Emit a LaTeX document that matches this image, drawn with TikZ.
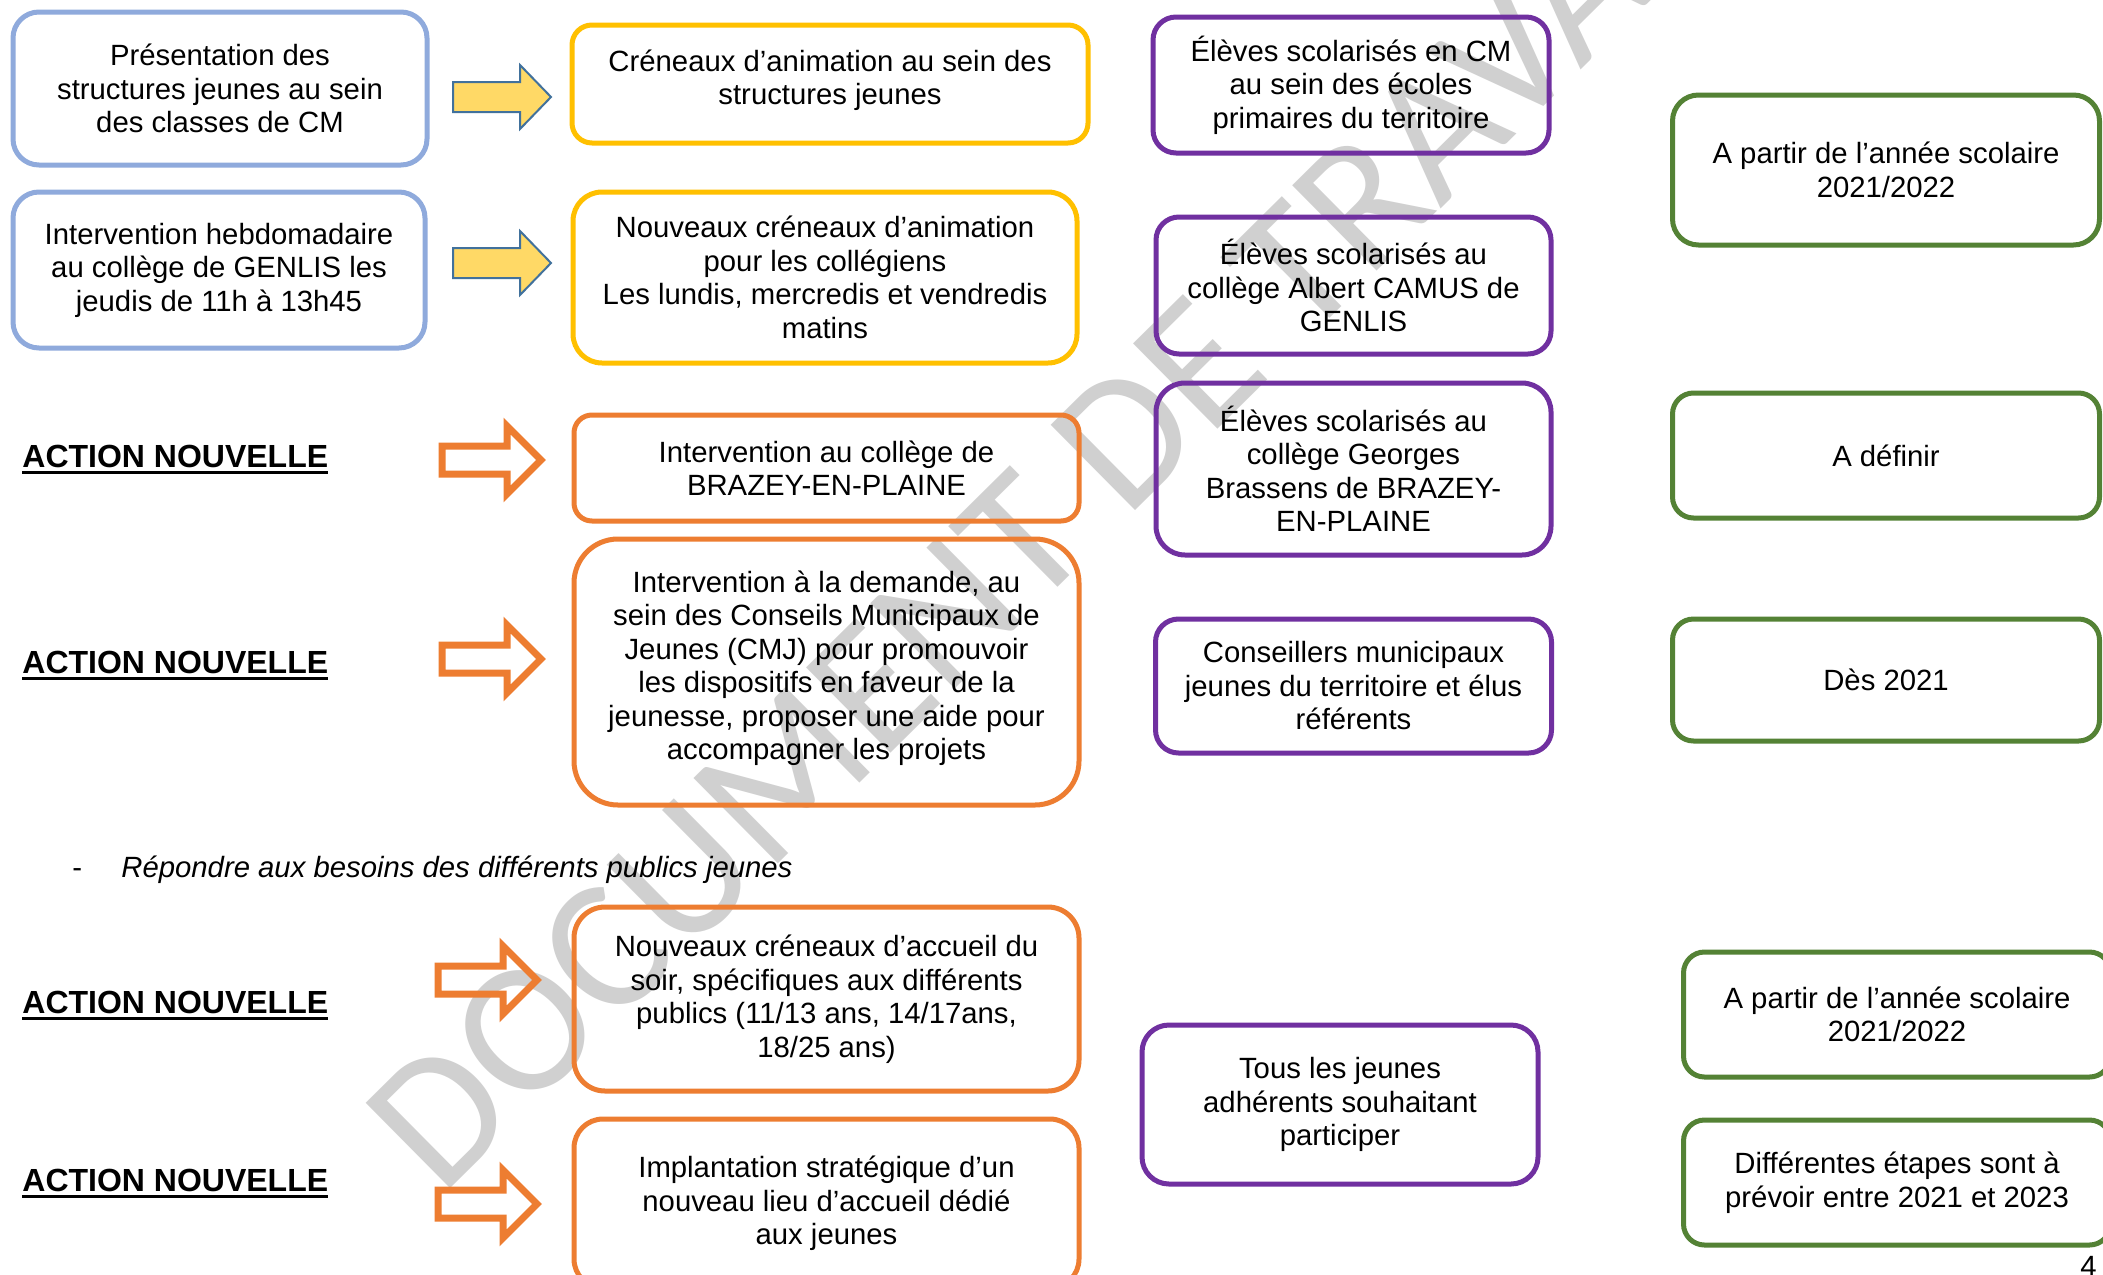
\documentclass[tikz,border=0pt]{standalone}
\usepackage{fontspec}
\setmainfont{Liberation Sans}
\newfontfamily\filigranefont{Carlito}
\definecolor{bleuclair}{RGB}{143,170,220}
\definecolor{jaunebord}{RGB}{255,192,0}
\definecolor{orangebord}{RGB}{237,125,49}
\definecolor{violetbord}{RGB}{112,48,160}
\definecolor{vertbord}{RGB}{84,130,53}
\definecolor{fondfleche}{RGB}{255,217,102}
\definecolor{bordfleche}{RGB}{65,113,156}
\definecolor{gris}{RGB}{208,208,208}
\newcommand{\corps}{\fontsize{14.65pt}{16.75pt}\selectfont}
\newcommand{\titreaction}{\fontsize{16pt}{18pt}\selectfont\bfseries}
\newcommand{\souligne}[1]{\setbox0=\hbox{#1}\rlap{\copy0}\rule[-3.5pt]{\wd0}{1.75pt}}

\begin{document}
\begin{tikzpicture}[
    x=0.5pt,y=-0.5pt,
    cadre/.style={draw=#1,line width=2.5pt,align=center,inner sep=0pt,font=\corps},
    action/.style={anchor=base west,inner sep=0pt,font=\titreaction},
    filigrane/.style={text=gris,inner sep=0pt,font=\filigranefont\fontsize{93.5pt}{95pt}\selectfont},
    pics/flechejaune/.style={code={
      \draw[fill=fondfleche,draw=bordfleche,line width=1pt]
        (0,-15) -- (67,-15) -- (67,-32) -- (98,0) -- (67,32) -- (67,15) -- (0,15) -- cycle;}},
    pics/flecheorange/.style={code={
      \draw[draw=orangebord,line width=3.5pt]
        (0,-14) -- (65,-14) -- (65,-34) -- (99,0) -- (65,34) -- (65,14) -- (0,14) -- cycle;}}
  ]
    \useasboundingbox (0,0) rectangle (2103,1274);
    \clip (0,0) rectangle (2103,1274);
    \fill[white] (0,0) rectangle (2103,1274);
    \node[filigrane,rotate=44.7,anchor=west] (filigrane) at (399,1155) {DOCUMENT DE TRAVAIL};

    % colonne 1
    \node[cadre=bleuclair,minimum width=207pt,minimum height=76.5pt,rounded corners=13pt] (presentation) at (220,88.5)
      {Présentation des\\structures jeunes au sein\\des classes de CM};
    \node[cadre=bleuclair,minimum width=206pt,minimum height=78pt,rounded corners=13pt] (hebdo) at (219,270)
      {Intervention hebdomadaire\\au collège de GENLIS les\\jeudis de 11h à 13h45};
    \node[action] (action1) at (22,467) {\souligne{ACTION NOUVELLE}};
    \node[action] (action2) at (22,673) {\souligne{ACTION NOUVELLE}};
    \node[anchor=west,inner sep=0pt,font=\corps] (puce) at (72,870)
      {\makebox[24.5pt][l]{-}\textit{Répondre aux besoins des différents publics jeunes}};
    \node[action] (action3) at (22,1013) {\souligne{ACTION NOUVELLE}};
    \node[action] (action4) at (22,1191) {\souligne{ACTION NOUVELLE}};

    \pic at (453,97) {flechejaune};
    \pic at (453,263) {flechejaune};
    \pic at (442,460) {flecheorange};
    \pic at (442,659) {flecheorange};
    \pic at (438,980) {flecheorange};
    \pic at (438,1204) {flecheorange};

    % colonne 2
    \node[cadre=jaunebord,minimum width=258pt,minimum height=59pt,rounded corners=10pt] (creneaux) at (830,84)
      {Créneaux d’animation au sein des\\structures jeunes\rule[-7pt]{0pt}{7pt}};
    \node[cadre=jaunebord,minimum width=252pt,minimum height=85.5pt,rounded corners=14.5pt] (collegiens) at (825,277.5)
      {Nouveaux créneaux d’animation\\pour les collégiens\\Les lundis, mercredis et vendredis\\matins};
    \node[cadre=orangebord,minimum width=252.5pt,minimum height=53pt,rounded corners=9pt] (brazey) at (826.5,468)
      {Intervention au collège de\\BRAZEY-EN-PLAINE};
    \node[cadre=orangebord,minimum width=252.5pt,minimum height=133pt,rounded corners=22pt] (cmj) at (826.5,672)
      {Intervention à la demande, au\\sein des Conseils Municipaux de\\Jeunes (CMJ) pour promouvoir\\les dispositifs en faveur de la\\jeunesse, proposer une aide pour\\accompagner les projets\rule[-7pt]{0pt}{7pt}};
    \node[cadre=orangebord,minimum width=252.5pt,minimum height=92pt,rounded corners=15.5pt] (soir) at (826.5,999)
      {Nouveaux créneaux d’accueil du\\soir, spécifiques aux différents\\publics (11/13 ans, 14/17ans,\\18/25 ans)};
    \node[cadre=orangebord,minimum width=252.5pt,minimum height=84.5pt,rounded corners=14.5pt] (lieu) at (826.5,1203.5)
      {Implantation stratégique d’un\\nouveau lieu d’accueil dédié\\aux jeunes};

    % colonne 3
    \node[cadre=violetbord,minimum width=198pt,minimum height=68pt,rounded corners=11.5pt] (cm) at (1351,85)
      {Élèves scolarisés en CM\\au sein des écoles\\primaires du territoire};
    \node[cadre=violetbord,minimum width=197.5pt,minimum height=68.5pt,rounded corners=11.5pt] (camus) at (1353.5,285.5)
      {Élèves scolarisés au\\collège Albert CAMUS de\\GENLIS};
    \node[cadre=violetbord,minimum width=197.5pt,minimum height=86pt,rounded corners=14.5pt] (brassens) at (1353.5,469)
      {Élèves scolarisés au\\collège Georges\\Brassens de BRAZEY-\\EN-PLAINE};
    \node[cadre=violetbord,minimum width=198pt,minimum height=67pt,rounded corners=11.5pt] (conseillers) at (1353.5,686)
      {Conseillers municipaux\\jeunes du territoire et élus\\référents};
    \node[cadre=violetbord,minimum width=198pt,minimum height=79.5pt,rounded corners=13.5pt] (adherents) at (1340,1104.5)
      {Tous les jeunes\\adhérents souhaitant\\participer};

    % colonne 4
    \node[cadre=vertbord,minimum width=213.5pt,minimum height=75pt,rounded corners=13pt] (rentree) at (1886,170)
      {A partir de l’année scolaire\\2021/2022};
    \node[cadre=vertbord,minimum width=213.5pt,minimum height=62.5pt,rounded corners=10.5pt] (adefinir) at (1886,455.5)
      {A définir};
    \node[cadre=vertbord,minimum width=213.5pt,minimum height=61pt,rounded corners=10.5pt] (des2021) at (1886,680)
      {Dès 2021};
    \node[cadre=vertbord,minimum width=213.5pt,minimum height=62.5pt,rounded corners=10.5pt] (rentreebis) at (1897,1014.5)
      {A partir de l’année scolaire\\2021/2022};
    \node[cadre=vertbord,minimum width=213.5pt,minimum height=62.5pt,rounded corners=10.5pt] (etapes) at (1897,1182.5)
      {Différentes étapes sont à\\prévoir entre 2021 et 2023};

    \node[anchor=base west,inner sep=0pt,font=\corps] (page) at (2080,1276) {4};
\end{tikzpicture}
\end{document}
